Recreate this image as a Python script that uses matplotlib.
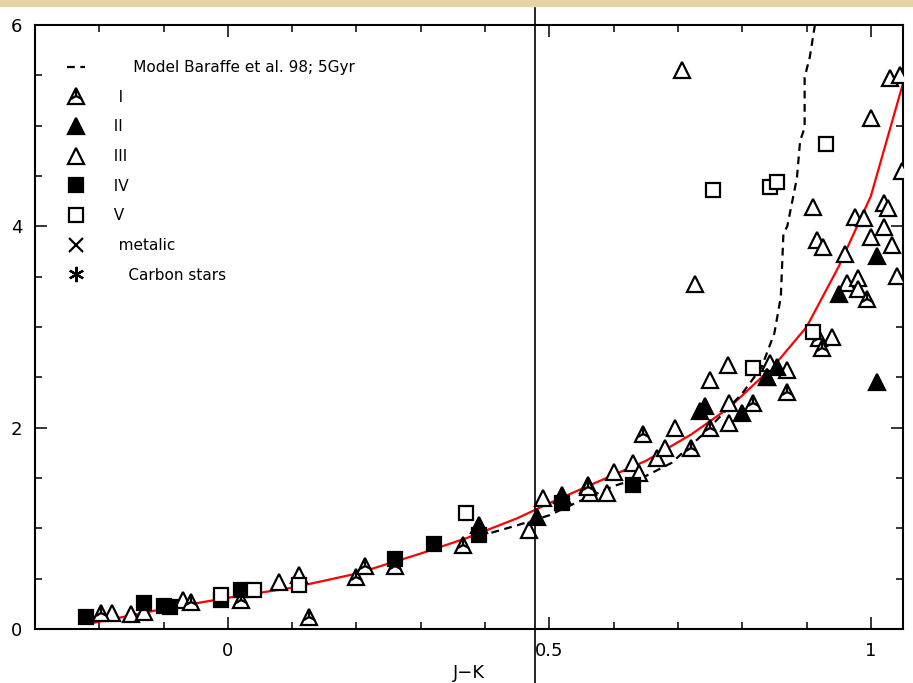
import numpy as np
import matplotlib
matplotlib.use('Agg')
import matplotlib.pyplot as plt
from matplotlib.lines import Line2D
from matplotlib.patches import Rectangle
from matplotlib.ticker import MultipleLocator, FixedLocator, FixedFormatter

plt.rcParams['font.family'] = ['DejaVu Sans']

# class I (triangle with inner tri)
x_I = [-0.197, -0.057, 0.02, 0.126, 0.2, 0.214, 0.26, 0.365, 0.56, 0.646,
       0.72, 0.75, 0.817, 0.838, 0.87, 0.92, 0.924, 0.994]
y_I = [0.16, 0.27, 0.29, 0.12, 0.52, 0.63, 0.63, 0.83, 1.41, 1.94,
       1.8, 2.0, 2.25, 2.5, 2.35, 2.89, 2.79, 3.28]

# class II (filled triangles)
x_II = [0.39, 0.48, 0.52, 0.735, 0.742, 0.8, 0.838, 0.854, 0.95, 1.01, 1.01]
y_II = [1.03, 1.11, 1.33, 2.17, 2.22, 2.15, 2.5, 2.6, 3.33, 3.71, 2.45]

# class III (open triangles)
x_III = [-0.18, -0.15, -0.13, -0.07, 0.08, 0.11, 0.469, 0.49, 0.56, 0.563,
         0.59, 0.6, 0.63, 0.64, 0.667, 0.68, 0.696, 0.706, 0.727, 0.75,
         0.778, 0.78, 0.78, 0.843, 0.87, 0.91, 0.916, 0.925, 0.94, 0.96,
         0.963, 0.975, 0.98, 0.98, 0.99, 1.0, 1.0, 1.02, 1.026, 1.02,
         1.033, 1.03, 1.045, 1.04, 1.048]
y_III = [0.16, 0.15, 0.17, 0.29, 0.47, 0.54, 0.98, 1.30, 1.43, 1.35,
         1.35, 1.56, 1.65, 1.55, 1.7, 1.8, 2.0, 5.55, 3.43, 2.47,
         2.62, 2.05, 2.25, 2.64, 2.57, 4.19, 3.86, 3.79, 2.9, 3.73,
         3.44, 4.09, 3.49, 3.38, 4.08, 3.89, 5.08, 4.23, 4.18, 3.99,
         3.81, 5.47, 5.5, 3.51, 4.55]

# class IV (filled squares)
x_IV = [-0.22, -0.13, -0.1, -0.09, -0.01, 0.02, 0.26, 0.32, 0.39, 0.52, 0.63]
y_IV = [0.12, 0.26, 0.23, 0.22, 0.29, 0.39, 0.7, 0.84, 0.93, 1.25, 1.43]

# class V (open squares)
x_V = [-0.01, 0.04, 0.11, 0.37, 0.755, 0.843, 0.854, 0.93, 0.817, 0.91]
y_V = [0.34, 0.39, 0.44, 1.15, 4.36, 4.39, 4.44, 4.82, 2.59, 2.95]

# fitted relation (red)
fit_x = [-0.21, -0.1, 0.0, 0.1, 0.2, 0.3, 0.37, 0.45, 0.5, 0.56, 0.65,
         0.72, 0.78, 0.85, 0.9, 0.95, 1.0, 1.05]
fit_y = [0.06, 0.20, 0.31, 0.41, 0.55, 0.75, 0.90, 1.10, 1.25, 1.42, 1.67,
         1.93, 2.2, 2.62, 3.0, 3.6, 4.3, 5.42]

# Baraffe et al. 98 model, 5 Gyr (dashed)
mod_x = [0.39, 0.45, 0.5, 0.54, 0.6, 0.65, 0.69, 0.74, 0.80, 0.83, 0.85,
         0.86, 0.864, 0.87, 0.885, 0.89, 0.897, 0.897, 0.905, 0.913]
mod_y = [0.92, 1.03, 1.13, 1.25, 1.42, 1.52, 1.65, 1.94, 2.34, 2.6, 2.94,
         3.3, 3.93, 4.0, 4.48, 4.85, 4.98, 5.48, 5.68, 6.0]

vline_x = 0.478

x_ticks = [0, 0.5, 1]
x_ticklabels = ['0', '0.5', '1']
y_ticks = [0, 2, 4, 6]
y_ticklabels = ['0', '2', '4', '6']

fig = plt.figure(figsize=(9.13, 6.83), dpi=100)
fig.patches.append(Rectangle((0, 1 - 6/683.), 1, 6/683., transform=fig.transFigure,
                             color='#e6d2a4', zorder=0))
ax = fig.add_axes([35/913., 54/683., 868/913., 604/683.])

ms_t = 11
ms_s = 10
mew = 1.6
dash = (0, (3.5, 2.5))
ax.plot(fit_x, fit_y, color='red', lw=1.6, zorder=2)
ax.plot(mod_x, mod_y, color='black', lw=1.6, ls=dash, zorder=2)

ax.plot(x_III, y_III, ls='none', marker='^', ms=ms_t, mfc='white', mec='black', mew=mew, zorder=3)
ax.plot(x_I, y_I, ls='none', marker='^', ms=ms_t, mfc='white', mec='black', mew=mew, zorder=3)
ax.plot(x_I, y_I, ls='none', marker='2', ms=ms_t*0.9, mec='black', mew=mew, zorder=3)
ax.plot(x_II, y_II, ls='none', marker='^', ms=ms_t, mfc='black', mec='black', mew=mew, zorder=3)
ax.plot(x_IV, y_IV, ls='none', marker='s', ms=ms_s, mfc='black', mec='black', mew=mew, zorder=3)
ax.plot(x_V, y_V, ls='none', marker='s', ms=ms_s, mfc='white', mec='black', mew=mew, zorder=3)

ax.axvline(vline_x, ymin=-0.1, ymax=1.1, color='black', lw=1.2, clip_on=False, zorder=4)

ax.set_xlim(-0.3, 1.05)
ax.set_ylim(0, 6)
ax.xaxis.set_major_locator(FixedLocator(x_ticks))
ax.xaxis.set_major_formatter(FixedFormatter(x_ticklabels))
ax.xaxis.set_minor_locator(MultipleLocator(0.1))
ax.yaxis.set_major_locator(FixedLocator(y_ticks))
ax.yaxis.set_major_formatter(FixedFormatter(y_ticklabels))
ax.yaxis.set_minor_locator(MultipleLocator(0.5))
ax.tick_params(which='both', direction='in', top=True, right=True, width=1.1,
               labelsize=13, pad=9)
ax.tick_params(which='major', length=8.5)
ax.tick_params(which='minor', length=5)
for s in ax.spines.values():
    s.set_linewidth(1.5)
ax.set_xlabel('J\u2212K', fontsize=13, labelpad=3)

handles = [
    Line2D([], [], color='black', lw=1.6, ls=dash),
    (Line2D([], [], ls='none', marker='^', ms=ms_t, mfc='white', mec='black', mew=mew),
     Line2D([], [], ls='none', marker='2', ms=ms_t*0.9, mec='black', mew=mew)),
    Line2D([], [], ls='none', marker='^', ms=ms_t, mfc='black', mec='black', mew=mew),
    Line2D([], [], ls='none', marker='^', ms=ms_t, mfc='white', mec='black', mew=mew),
    Line2D([], [], ls='none', marker='s', ms=ms_s, mfc='black', mec='black', mew=mew),
    Line2D([], [], ls='none', marker='s', ms=ms_s, mfc='white', mec='black', mew=mew),
    Line2D([], [], ls='none', marker='x', ms=ms_s, mec='black', mew=mew),
    Line2D([], [], ls='none', marker=(6, 2, 0), ms=ms_t, mec='black', mew=mew),
]
labels = ['      Model Baraffe et al. 98; 5Gyr', '   I', '  II', '  III', '  IV', '  V',
          '   metalic', '     Carbon stars']
ax.legend(handles, labels, loc='upper left', bbox_to_anchor=(0.037, 0.942),
          frameon=False, fontsize=11, handlelength=1.2, handletextpad=1.2,
          labelspacing=0.96, borderpad=0, borderaxespad=0)

fig.savefig('out.png', dpi=100)
